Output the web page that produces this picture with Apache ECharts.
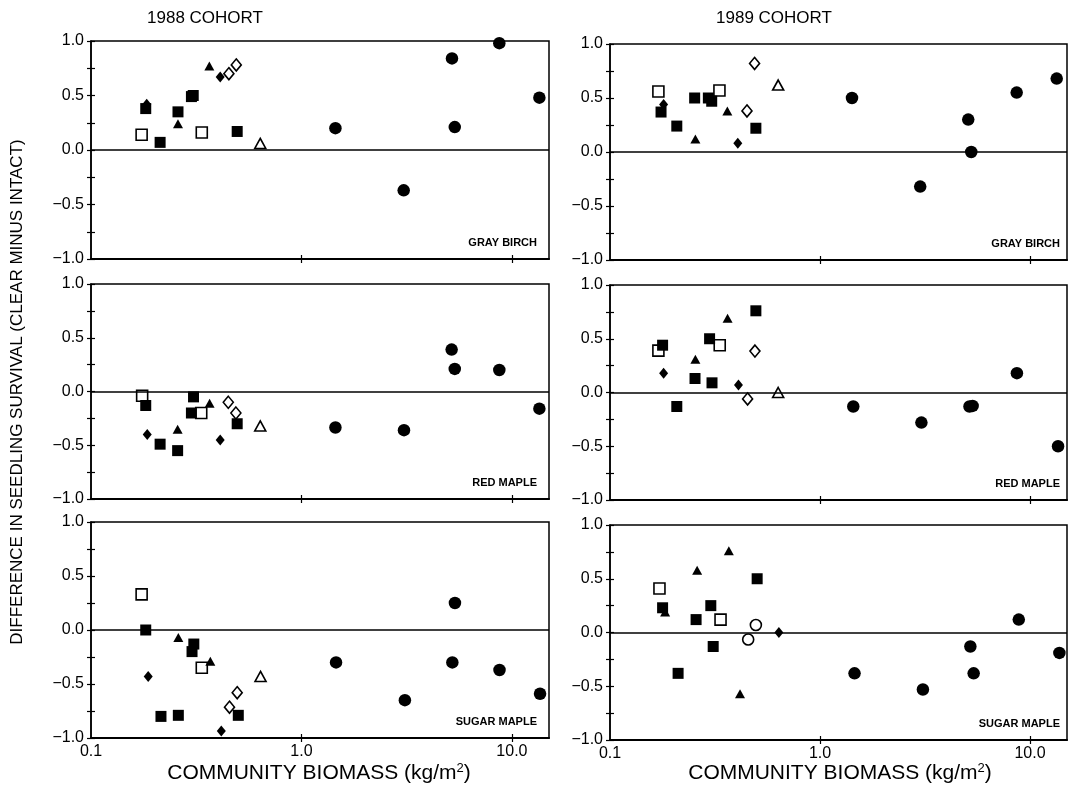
<!DOCTYPE html>
<html><head><meta charset="utf-8">
<script src="https://cdn.jsdelivr.net/npm/echarts@6/dist/echarts.min.js"></script>
<style>html,body{margin:0;background:#fff}#c{width:1069px;height:797px}</style>
</head><body><div id="c"></div>
<script>
// ---- data ----
const COHORTS = ['1988 COHORT', '1989 COHORT'];
const SPECIES = ['GRAY BIRCH', 'RED MAPLE', 'SUGAR MAPLE'];
const X_TICKS = [0.1, 1, 10];
const X_TICK_LABELS = ['0.1', '1.0', '10.0'];
const Y_LABELS = [-1, -0.5, 0, 0.5, 1];
const X_TITLE = 'COMMUNITY BIOMASS (kg/m';
const Y_TITLE = 'DIFFERENCE IN SEEDLING SURVIVAL (CLEAR MINUS INTACT)';
// marker codes: C filled circle, S filled square, s open square, T filled triangle,
// t open triangle, D filled diamond, d open diamond, o open circle
const GB88 = [
  [1.45,0.20,'C'],[3.06,-0.37,'C'],[5.19,0.84,'C'],[5.35,0.21,'C'],[8.71,0.98,'C'],[13.5,0.48,'C'],
  [0.182,0.38,'S'],[0.213,0.07,'S'],[0.259,0.35,'S'],[0.300,0.49,'S'],[0.306,0.50,'S'],[0.495,0.17,'S'],
  [0.174,0.14,'s'],[0.336,0.16,'s'],
  [0.259,0.24,'T'],[0.365,0.77,'T'],
  [0.184,0.42,'D'],[0.411,0.67,'D'],
  [0.452,0.70,'d'],[0.490,0.78,'d'],
  [0.637,0.06,'t']
];
const GB89 = [
  [1.42,0.50,'C'],[3.00,-0.32,'C'],[5.08,0.30,'C'],[5.25,0.00,'C'],[8.64,0.55,'C'],[13.4,0.68,'C'],
  [0.175,0.37,'S'],[0.208,0.24,'S'],[0.253,0.50,'S'],[0.294,0.50,'S'],[0.305,0.47,'S'],[0.495,0.22,'S'],
  [0.170,0.56,'s'],[0.332,0.57,'s'],
  [0.255,0.12,'T'],[0.362,0.38,'T'],
  [0.180,0.44,'D'],[0.406,0.08,'D'],
  [0.449,0.38,'d'],[0.488,0.82,'d'],
  [0.632,0.62,'t']
];
const RM88 = [
  [1.45,-0.335,'C'],[3.07,-0.36,'C'],[5.17,0.39,'C'],[5.35,0.21,'C'],[8.71,0.20,'C'],[13.5,-0.16,'C'],
  [0.182,-0.13,'S'],[0.213,-0.49,'S'],[0.258,-0.55,'S'],[0.300,-0.20,'S'],[0.307,-0.05,'S'],[0.495,-0.30,'S'],
  [0.175,-0.04,'s'],[0.334,-0.20,'s'],
  [0.258,-0.35,'T'],[0.366,-0.11,'T'],
  [0.185,-0.40,'D'],[0.411,-0.45,'D'],
  [0.449,-0.10,'d'],[0.488,-0.20,'d'],
  [0.637,-0.32,'t']
];
const RM89 = [
  [1.44,-0.13,'C'],[3.04,-0.28,'C'],[5.15,-0.13,'C'],[5.33,-0.125,'C'],[8.66,0.18,'C'],[13.6,-0.50,'C'],
  [0.178,0.44,'S'],[0.208,-0.13,'S'],[0.254,0.13,'S'],[0.298,0.50,'S'],[0.306,0.09,'S'],[0.495,0.76,'S'],
  [0.170,0.39,'s'],[0.333,0.44,'s'],
  [0.255,0.31,'T'],[0.363,0.69,'T'],
  [0.180,0.18,'D'],[0.409,0.07,'D'],
  [0.452,-0.06,'d'],[0.490,0.385,'d'],
  [0.632,0.00,'t']
];
const SM88 = [
  [1.46,-0.30,'C'],[3.10,-0.65,'C'],[5.21,-0.30,'C'],[5.36,0.25,'C'],[8.73,-0.37,'C'],[13.6,-0.59,'C'],
  [0.182,0.00,'S'],[0.215,-0.80,'S'],[0.260,-0.79,'S'],[0.302,-0.20,'S'],[0.308,-0.13,'S'],[0.501,-0.79,'S'],
  [0.174,0.33,'s'],[0.336,-0.35,'s'],
  [0.260,-0.07,'T'],[0.369,-0.29,'T'],
  [0.187,-0.43,'D'],[0.416,-0.935,'D'],
  [0.455,-0.715,'d'],[0.495,-0.58,'d'],
  [0.639,-0.43,'t']
];
const SM89 = [
  [1.46,-0.38,'C'],[3.09,-0.53,'C'],[5.20,-0.13,'C'],[5.39,-0.38,'C'],[8.84,0.12,'C'],[13.8,-0.19,'C'],
  [0.178,0.23,'S'],[0.211,-0.38,'S'],[0.257,0.12,'S'],[0.302,0.25,'S'],[0.310,-0.13,'S'],[0.502,0.50,'S'],
  [0.172,0.41,'s'],[0.336,0.12,'s'],
  [0.183,0.19,'T'],[0.260,0.58,'T'],[0.368,0.76,'T'],[0.416,-0.57,'T'],
  [0.455,-0.065,'o'],[0.495,0.07,'o'],
  [0.637,0.00,'D']
];
const PANELS = [[GB88, GB89], [RM88, RM89], [SM88, SM89]];

// ---- layout & styles ----
const COL_LEFT = [91, 610];
const COL_WIDTH = [458, 457];
const ROW_TOP = [[41, 284, 522], [44, 285, 525]];
const ROW_H = [[218, 215, 216], [216, 215, 215]];
const FONT = '"Liberation Sans", Arial, Helvetica, sans-serif';
const MARKERS = {
  t: {symbol: 'triangle', size: [11, 10], fill: '#fff'},
  d: {symbol: 'diamond', size: [10, 12], fill: '#fff'},
  o: {symbol: 'circle', size: 11, fill: '#fff'},
  s: {symbol: 'rect', size: 11, fill: '#fff'},
  T: {symbol: 'triangle', size: [10, 9], fill: '#000'},
  D: {symbol: 'diamond', size: [9, 11], fill: '#000'},
  S: {symbol: 'rect', size: 11, fill: '#000'},
  C: {symbol: 'circle', size: 12.5, fill: '#000'}
};

const grids = [], xAxes = [], yAxes = [], series = [], graphics = [];
function fmtY(v) {
  if (!Y_LABELS.some(t => Math.abs(t - v) < 1e-6)) return '';
  return (v < -1e-9 ? '\u2212' : '') + Math.abs(v).toFixed(1);
}
function fmtX(v) {
  const i = X_TICKS.findIndex(t => Math.abs(Math.log10(t) - Math.log10(v)) < 0.01);
  return i >= 0 ? X_TICK_LABELS[i] : '';
}

let gi = 0;
for (let r = 0; r < 3; r++) {
  for (let c = 0; c < 2; c++) {
    const data = PANELS[r][c];
    grids.push({left: COL_LEFT[c], width: COL_WIDTH[c], top: ROW_TOP[c][r], height: ROW_H[c][r],
      show: true, borderColor: '#000', borderWidth: 1.5, backgroundColor: 'transparent'});
    const bottom = r === 2;
    const xBase = {type: 'log', logBase: 10, min: 0.1, max: 15, gridIndex: gi, position: 'bottom',
      splitLine: {show: false}, minorTick: {show: false}};
    xAxes.push(Object.assign({}, xBase, {
      axisLine: {show: true, onZero: false, lineStyle: {color: '#000', width: 2}},
      axisTick: {show: true, inside: false, length: 4, customValues: [1, 10], lineStyle: {color: '#000', width: 1.2}},
      axisLabel: {show: bottom, customValues: X_TICKS, formatter: fmtX, margin: 6,
        color: '#000', fontSize: 16, fontFamily: FONT}
    }));
    xAxes.push(Object.assign({}, xBase, {
      axisLine: {show: false, onZero: false},
      axisTick: {show: true, inside: true, length: 4, customValues: [1, 10], lineStyle: {color: '#000', width: 1.2}},
      axisLabel: {show: false}
    }));
    const yBase = {type: 'value', min: -1, max: 1, interval: 0.25, gridIndex: gi, position: 'left',
      splitLine: {show: false}};
    yAxes.push(Object.assign({}, yBase, {
      axisLine: {show: true, onZero: false, lineStyle: {color: '#000', width: 1.5}},
      axisTick: {show: true, inside: false, length: 4, lineStyle: {color: '#000', width: 1.2}},
      axisLabel: {formatter: fmtY, margin: 7, color: '#000', fontSize: 16, fontFamily: FONT}
    }));
    yAxes.push(Object.assign({}, yBase, {
      axisLine: {show: false, onZero: false},
      axisTick: {show: true, inside: true, length: 4, lineStyle: {color: '#000', width: 1.2}},
      axisLabel: {show: false}
    }));
    let first = true;
    Object.keys(MARKERS).forEach(code => {
      const pts = data.filter(p => p[2] === code).map(p => [p[0], p[1]]);
      if (!pts.length) return;
      const m = MARKERS[code];
      const s = {type: 'scatter', xAxisIndex: gi * 2, yAxisIndex: gi * 2, data: pts,
        symbol: m.symbol, symbolSize: m.size, silent: true,
        itemStyle: {color: m.fill, borderColor: '#000', borderWidth: m.fill === '#fff' ? 1.6 : 0, opacity: 1}};
      if (first) {
        s.markLine = {silent: true, symbol: 'none', label: {show: false},
          lineStyle: {color: '#000', width: 1.6, type: 'solid'}, data: [{yAxis: 0}]};
        first = false;
      }
      series.push(s);
    });
    graphics.push({type: 'text', right: c === 0 ? 1069 - 537 : 1069 - 1060,
      top: ROW_TOP[c][r] + ROW_H[c][r] - 22,
      style: {text: SPECIES[r], font: 'bold 11px ' + FONT, fill: '#000'}});
    gi++;
  }
}
// column titles
[205, 774].forEach((x, i) => graphics.push({type: 'text', x: x, y: 18,
  style: {text: COHORTS[i], font: '17px ' + FONT, fill: '#000', align: 'center', verticalAlign: 'middle'}}));
// x titles
[319, 840].forEach(x => graphics.push({type: 'text', x: x, y: 773,
  style: {text: '{a|' + X_TITLE + '}{s|2}{a|)}', align: 'center', verticalAlign: 'middle',
    rich: {a: {fontSize: 21, fontFamily: FONT, fill: '#000', color: '#000'},
           s: {fontSize: 13, fontFamily: FONT, fill: '#000', color: '#000', padding: [0, 0, 10, 0]}}}}));
// y title
graphics.push({type: 'text', x: 17, y: 392, rotation: Math.PI / 2,
  style: {text: Y_TITLE, font: '17px ' + FONT, fill: '#000', align: 'center', verticalAlign: 'middle'}});

const chart = echarts.init(document.getElementById('c'), null, {renderer: 'canvas'});
chart.setOption({animation: false, backgroundColor: '#fff',
  grid: grids, xAxis: xAxes, yAxis: yAxes, series: series, graphic: graphics});
</script></body></html>
